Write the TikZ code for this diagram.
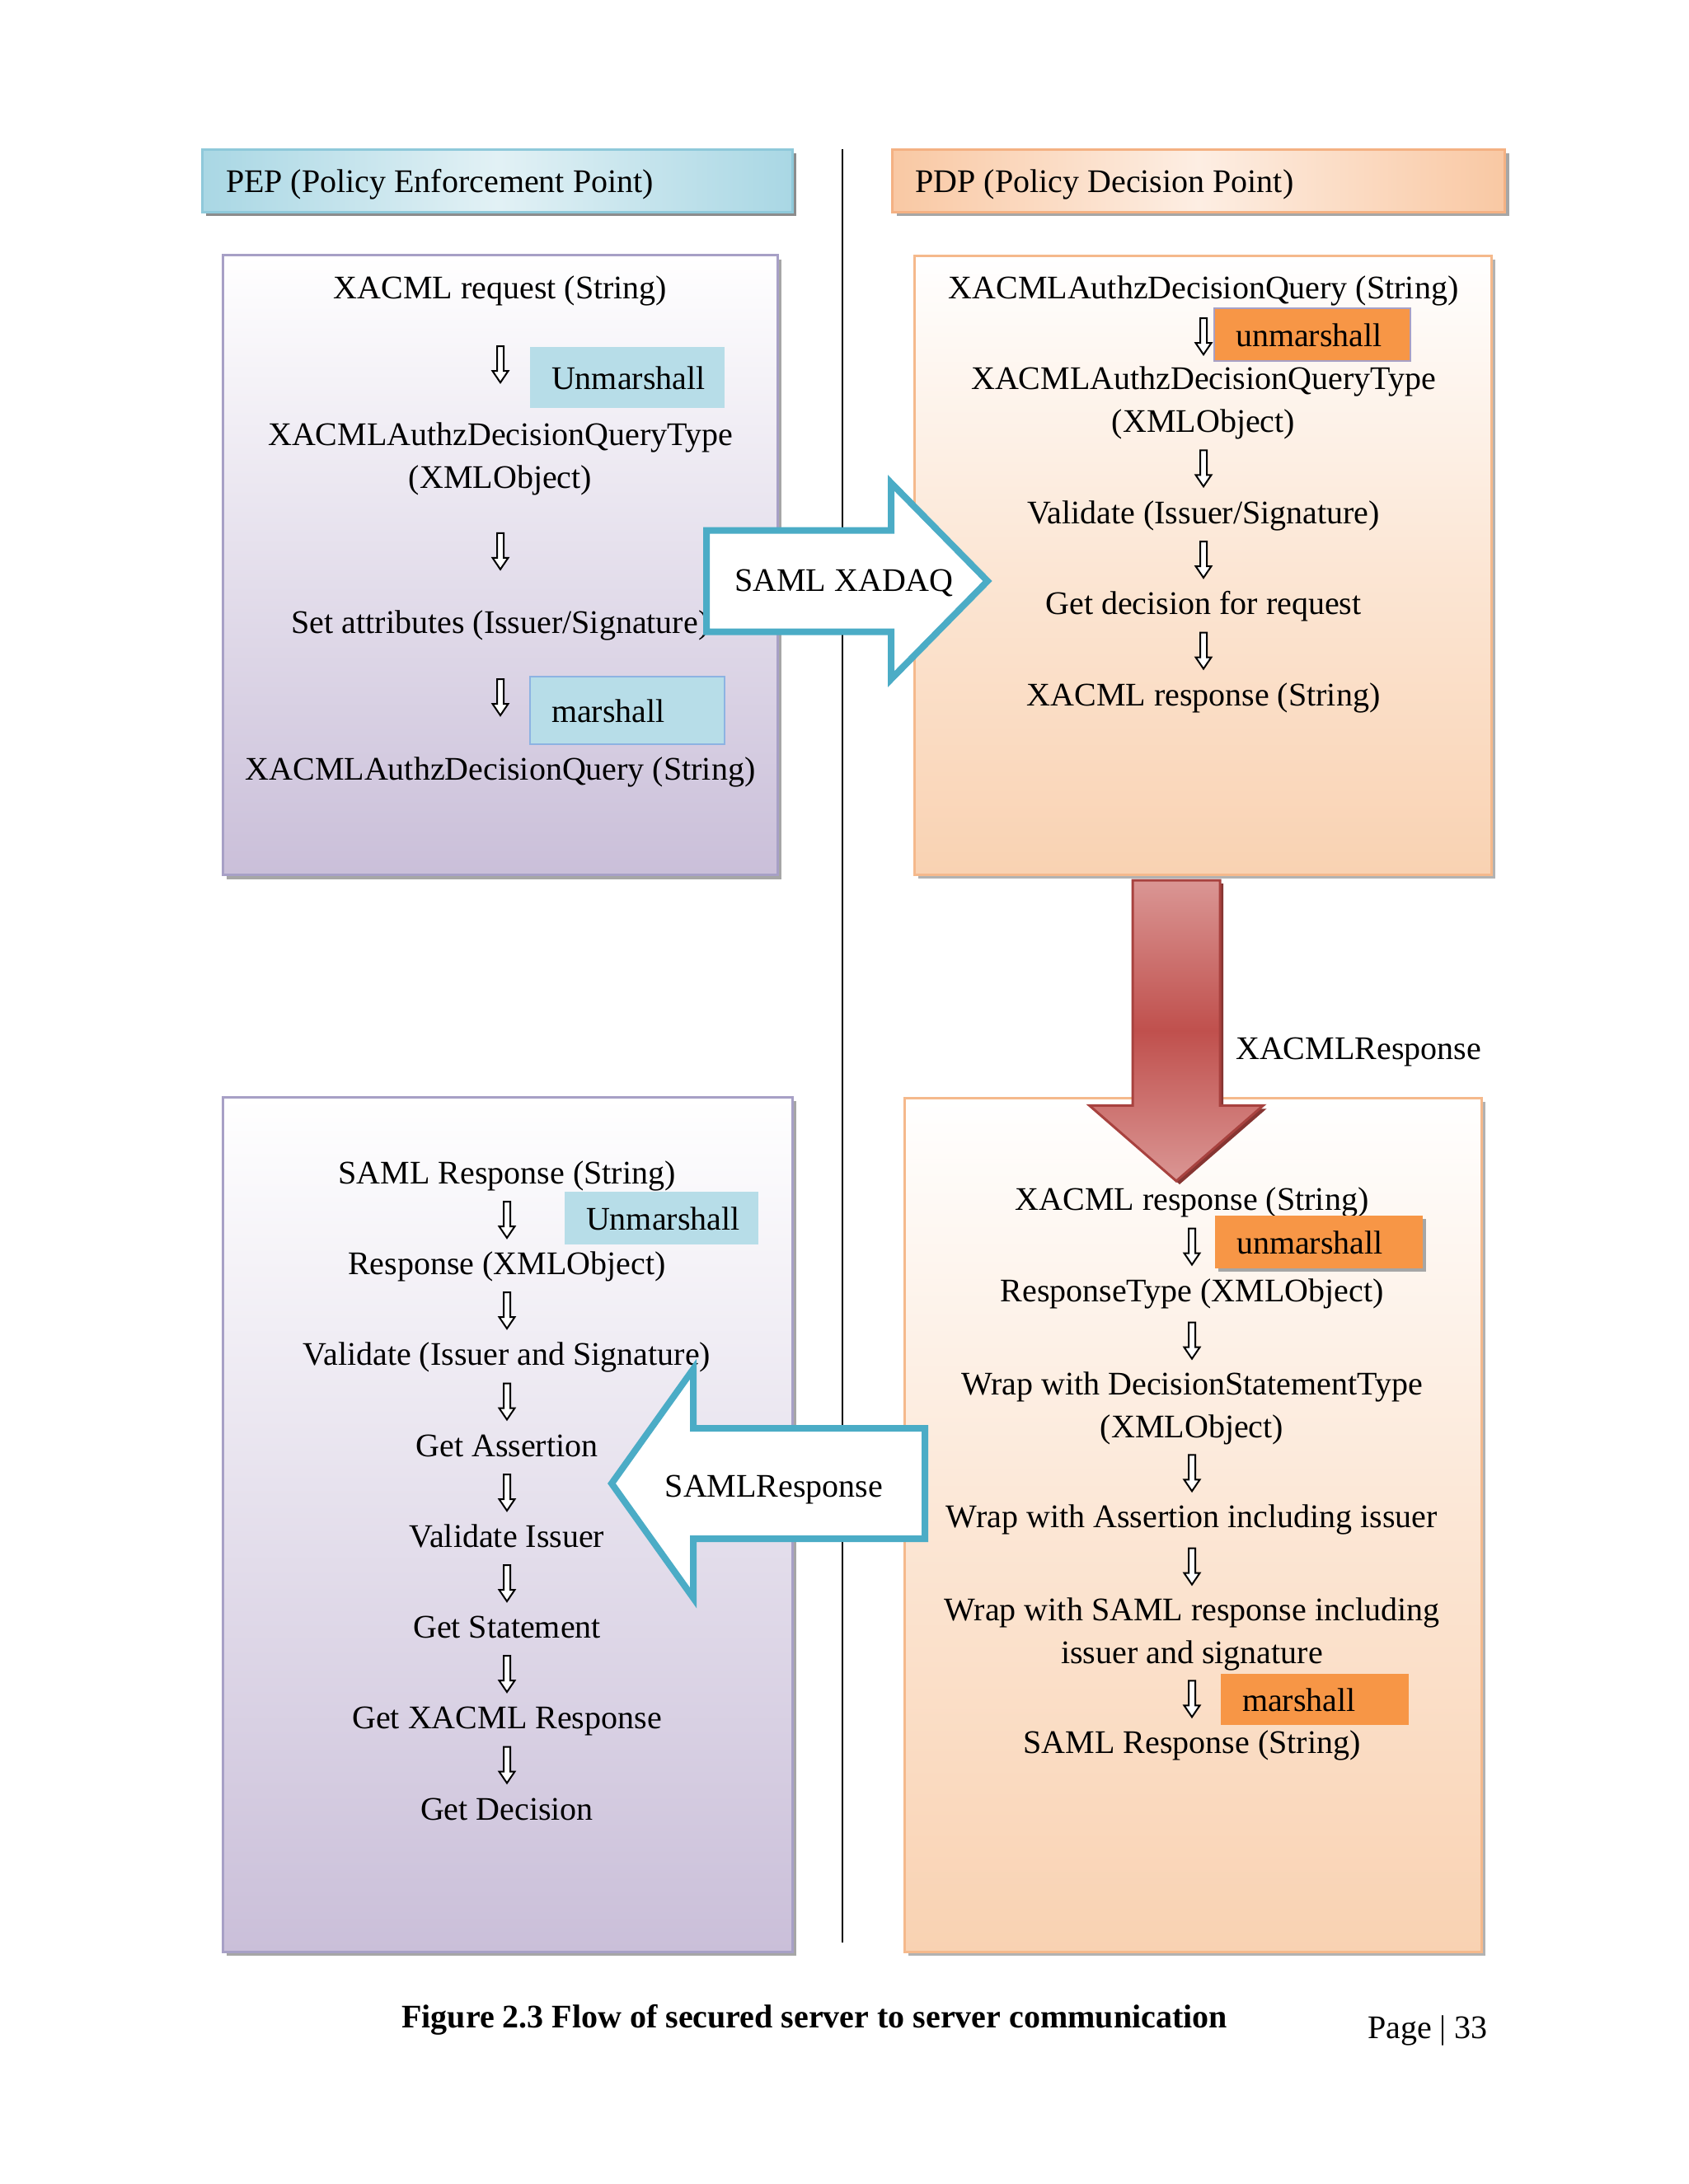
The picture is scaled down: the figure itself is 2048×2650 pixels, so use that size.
\documentclass[tikz,border=0pt]{standalone}
\usepackage{fontspec}
\setmainfont{Liberation Serif}
\usepackage{tikz}
\usetikzlibrary{calc,shapes.arrows,shadows}

\definecolor{tagblue}{HTML}{B7DDE8}
\definecolor{hdrblue}{HTML}{A9D7E4}
\definecolor{hdrblueL}{HTML}{E2F1F5}
\definecolor{hdrblueline}{HTML}{8FC9DA}
\definecolor{hdrpeach}{HTML}{F9C8A3}
\definecolor{hdrpeachL}{HTML}{FDEEE3}
\definecolor{hdrpeachline}{HTML}{F4B183}
\definecolor{lavender}{HTML}{CABFD9}
\definecolor{lavline}{HTML}{A7A0C6}
\definecolor{peach}{HTML}{F9D2B2}
\definecolor{peachline}{HTML}{F5B98C}
\definecolor{tagorange}{HTML}{F79646}
\definecolor{tagline}{HTML}{8DB3E2}
\definecolor{arrowblue}{HTML}{4BACC6}
\definecolor{redmid}{HTML}{C0504D}
\definecolor{redlight}{HTML}{DA9694}
\definecolor{redline}{HTML}{A8423F}

\begin{document}
\begin{tikzpicture}[x=1pt,y=-1pt,font=\fontsize{40}{52}\selectfont]
\tikzstyle{every node}+=[inner sep=0pt, outer sep=0pt]
\tikzstyle{txt}=[text height=32pt, text depth=9pt]
\tikzstyle{txt2}=[align=center]
\tikzstyle{lowtxt}=[text height=38pt, text depth=9pt]
\tikzstyle{pephead}=[lowtxt, draw=hdrblueline, line width=3pt, left color=hdrblue, right color=hdrblue, middle color=hdrblueL, minimum height=76pt, inner xsep=29pt, align=flush left, drop shadow={shadow xshift=5pt, shadow yshift=-5pt, fill=black!45, opacity=1}]
\tikzstyle{pdphead}=[lowtxt, draw=hdrpeachline, line width=3pt, left color=hdrpeach, right color=hdrpeach, middle color=hdrpeachL, minimum height=76pt, inner xsep=28pt, align=flush left, drop shadow={shadow xshift=5pt, shadow yshift=-5pt, fill=black!35, opacity=1}]
\tikzstyle{pepbox}=[draw=lavline, line width=3pt, top color=white, bottom color=lavender, drop shadow={shadow xshift=5pt, shadow yshift=-5pt, fill=black!35, opacity=1}]
\tikzstyle{pdpbox}=[draw=peachline, line width=3pt, top color=white, bottom color=peach, middle color=peach!55!white, drop shadow={shadow xshift=5pt, shadow yshift=-5pt, fill=black!30, opacity=1}]
\tikzstyle{bluetag}=[lowtxt, fill=tagblue, inner xsep=26pt, align=flush left]
\tikzstyle{orangetag}=[lowtxt, fill=tagorange, inner xsep=26pt, align=flush left]
\tikzstyle{flow}=[draw=black, fill=white, line width=2pt, to path={let \p1=($(\tikztostart)!.5!(\tikztotarget)$) in (\x1-4pt,\y1+22pt) -- (\x1-4pt,\y1-8pt) -- (\x1-9.5pt,\y1-8pt) -- (\x1,\y1-22pt) -- (\x1+9.5pt,\y1-8pt) -- (\x1+4pt,\y1-8pt) -- (\x1+4pt,\y1+22pt) -- cycle}]
\tikzstyle{blockarrow}=[single arrow, draw=arrowblue, line width=8pt, fill=white]
\tikzstyle{redarrow}=[single arrow, draw=redline, line width=3pt, top color=redlight, bottom color=redlight, middle color=redmid, drop shadow={shadow xshift=4pt, shadow yshift=-4pt, fill=redline!80!black, opacity=1}]

\fill [white] (0,0) rectangle (2048,2650);
\useasboundingbox (0,0) rectangle (2048,2650);

\coordinate (divtop) at (1022,181);
\coordinate (divbot) at (1022,2357);
\draw [black, line width=2.5pt] (divtop) -- (divbot);

\draw (603,219) node [pephead, text width=658pt] (pephdr) {PEP (Policy Enforcement Point)};
\draw (1454,219) node [pdphead, text width=687pt] (pdphdr) {PDP (Policy Decision Point)};

\draw (606.5,685.5) node [pepbox, minimum width=673pt, minimum height=752pt] (pepA) {};
\draw (1459,685.5) node [pdpbox, minimum width=700pt, minimum height=751pt] (pdpA) {};
\draw (615.5,1849.5) node [pepbox, minimum width=691pt, minimum height=1037pt] (pepB) {};
\draw (1447,1850) node [pdpbox, minimum width=700pt, minimum height=1036pt] (pdpB) {};

\draw (607,351) node [txt] (lt1) {XACML request (String)};
\draw (607,557) node [txt2] (lt2) {XACMLAuthzDecisionQueryType\\(XMLObject)};
\draw (607,757) node [txt] (lt3) {Set attributes (Issuer/Signature)};
\draw (607,935) node [txt] (lt4) {XACMLAuthzDecisionQuery (String)};
\draw (761,458) node [bluetag, text width=184pt, minimum height=74pt] (tagA) {Unmarshall};
\draw (761,862) node [bluetag, draw=tagline, line width=2pt, text width=184pt, minimum height=82pt] (tagB) {marshall};

\draw (1460,351) node [txt] (rt1) {XACMLAuthzDecisionQuery (String)};
\draw (1460,489) node [txt2] (rt2) {XACMLAuthzDecisionQueryType\\(XMLObject)};
\draw (1460,624) node [txt] (rt3) {Validate (Issuer/Signature)};
\draw (1460,734) node [txt] (rt4) {Get decision for request};
\draw (1460,845) node [txt] (rt5) {XACML response (String)};
\draw (1592,406) node [orangetag, draw=lavline, line width=2pt, text width=186pt, minimum height=64pt] (tagC) {unmarshall};

\draw (615,1425) node [txt] (lb1) {SAML Response (String)};
\draw (615,1535) node [txt] (lb2) {Response (XMLObject)};
\draw (615,1645) node [txt] (lb3) {Validate (Issuer and Signature)};
\draw (615,1756) node [txt] (lb4) {Get Assertion};
\draw (615,1866) node [txt] (lb5) {Validate Issuer};
\draw (615,1976) node [txt] (lb6) {Get Statement};
\draw (615,2086) node [txt] (lb7) {Get XACML Response};
\draw (615,2197) node [txt] (lb8) {Get Decision};
\draw (802.5,1478) node [bluetag, text width=183pt, minimum height=64pt] (tagD) {Unmarshall};

\draw (1446,1457) node [txt] (rb1) {XACML response (String)};
\draw (1446,1568) node [txt] (rb2) {ResponseType (XMLObject)};
\draw (1446,1709) node [txt2] (rb3) {Wrap with DecisionStatementType\\(XMLObject)};
\draw (1446,1842) node [txt] (rb4) {Wrap with Assertion including issuer};
\draw (1446,1983) node [txt2] (rb5) {Wrap with SAML response including\\issuer and signature};
\draw (1446,2116) node [txt] (rb6) {SAML Response (String)};
\draw (1600,1507) node [orangetag, text width=200pt, minimum height=64pt, drop shadow={shadow xshift=4pt, shadow yshift=-4pt, fill=black!35, opacity=1}] (tagE) {unmarshall};
\draw (1595,2062) node [orangetag, text width=176pt, minimum height=62pt] (tagF) {marshall};

\draw [flow] (lt1.south) to (lt2.north);
\draw [flow] (lt2.south) to (lt3.north);
\draw [flow] (lt3.south) to (lt4.north);
\draw [flow] (rt1.south) to (rt2.north);
\draw [flow] (rt2.south) to (rt3.north);
\draw [flow] (rt3.south) to (rt4.north);
\draw [flow] (rt4.south) to (rt5.north);
\draw [flow] (lb1.south) to (lb2.north);
\draw [flow] (lb2.south) to (lb3.north);
\draw [flow] (lb3.south) to (lb4.north);
\draw [flow] (lb4.south) to (lb5.north);
\draw [flow] (lb5.south) to (lb6.north);
\draw [flow] (lb6.south) to (lb7.north);
\draw [flow] (lb7.south) to (lb8.north);
\draw [flow] (rb1.south) to (rb2.north);
\draw [flow] (rb2.south) to (rb3.north);
\draw [flow] (rb3.south) to (rb4.north);
\draw [flow] (rb4.south) to (rb5.north);
\draw [flow] (rb5.south) to (rb6.north);

\draw (1198,705) node [blockarrow, anchor=tip, inner sep=57.5pt, single arrow head extend=57.5pt, single arrow tip angle=91, minimum height=341pt] (xadaq) {};
\draw (1024,707) node (xadaqlbl) {SAML XADAQ};

\draw (742,1800) node [blockarrow, anchor=tip, shape border rotate=180, inner sep=63pt, single arrow head extend=72pt, single arrow tip angle=109, minimum height=380pt] (samlresp) {};
\draw (939,1807) node (samlresplbl) {SAMLResponse};

\draw (1427,1433) node [redarrow, anchor=tip, shape border rotate=270, inner sep=51.5pt, single arrow head extend=52.5pt, single arrow tip angle=98, minimum height=365pt] (xacmlresp) {};
\draw (1648,1276) node (xacmlresplbl) {XACMLResponse};

\draw (988,2451) node [font=\fontsize{40}{48}\selectfont\bfseries] (caption) {Figure 2.3 Flow of secured server to server communication};
\draw (1732,2464) node (page) {Page | 33};
\end{tikzpicture}
\end{document}
